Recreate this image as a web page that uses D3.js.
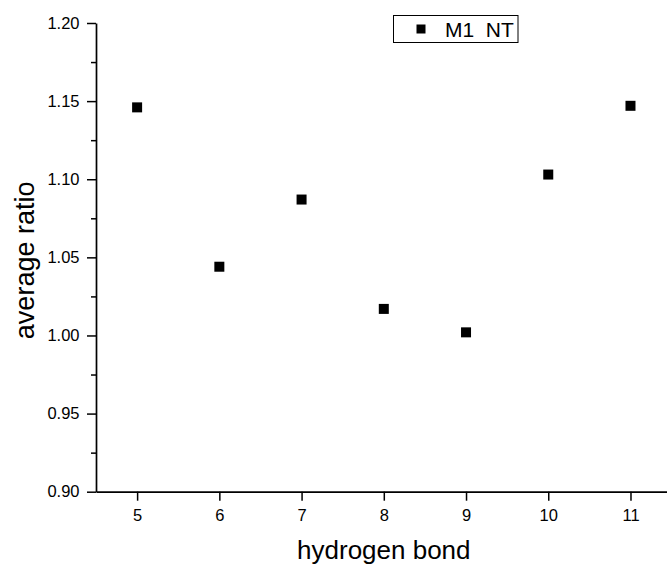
<!DOCTYPE html>
<html>
<head>
<meta charset="utf-8">
<script src="https://cdn.jsdelivr.net/npm/d3@7"></script>
<style>
  html, body { margin: 0; padding: 0; background: #fff; }
  svg { display: block; }
  text { font-family: Arial, "Liberation Sans", sans-serif; fill: #000; }
</style>
</head>
<body>
<svg id="chart" width="667" height="568"></svg>
<script>
// ---- data ----
const hydrogenBond = [5, 6, 7, 8, 9, 10, 11];
const averageRatio = [1.146, 1.044, 1.087, 1.017, 1.002, 1.103, 1.147];
const seriesName = "M1  NT";
const xTicks = [5, 6, 7, 8, 9, 10, 11];
const yTicks = [0.90, 0.95, 1.00, 1.05, 1.10, 1.15, 1.20];
const yMinorTicks = [0.925, 0.975, 1.025, 1.075, 1.125, 1.175];
const xLabel = "hydrogen bond";
const yLabel = "average ratio";

// ---- layout ----
const svg = d3.select("#chart");
const plotLeft = 96, plotRight = 671.6, plotTop = 23, plotBottom = 491.7;
const tickFont = 16.5;

const x = d3.scaleLinear().domain([4.5, 11.5]).range([plotLeft, plotRight]);
const y = d3.scaleLinear().domain([0.90, 1.20]).range([plotBottom, plotTop]);

// x axis
const xAxis = svg.append("g")
  .attr("transform", `translate(0,${plotBottom})`)
  .call(d3.axisBottom(x).tickValues(xTicks).tickFormat(d3.format("d"))
        .tickSizeInner(9).tickSizeOuter(0).tickPadding(9));
xAxis.select(".domain").attr("stroke", "#000").attr("stroke-width", 1.7);
xAxis.selectAll(".tick line").attr("stroke", "#000").attr("stroke-width", 1.5);
xAxis.selectAll(".tick text").attr("font-size", tickFont).attr("font-family", "Arial, 'Liberation Sans', sans-serif");

// y axis
const yAxis = svg.append("g")
  .attr("transform", `translate(${plotLeft},0)`)
  .call(d3.axisLeft(y).tickValues(yTicks).tickFormat(d3.format(".2f"))
        .tickSizeInner(9).tickSizeOuter(0).tickPadding(7.5));
yAxis.select(".domain").attr("stroke", "#000").attr("stroke-width", 1.7);
yAxis.selectAll(".tick line").attr("stroke", "#000").attr("stroke-width", 1.5);
yAxis.selectAll(".tick text").attr("font-size", tickFont).attr("font-family", "Arial, 'Liberation Sans', sans-serif");

// y minor ticks
svg.append("g")
  .attr("transform", `translate(${plotLeft},0)`)
  .call(d3.axisLeft(y).tickValues(yMinorTicks).tickFormat("").tickSizeInner(5).tickSizeOuter(0))
  .call(g => g.select(".domain").remove())
  .selectAll(".tick line").attr("stroke", "#000").attr("stroke-width", 1.5);

// axis labels
svg.append("text")
  .attr("x", (plotLeft + plotRight) / 2)
  .attr("y", 559)
  .attr("text-anchor", "middle")
  .attr("font-size", 26)
  .text(xLabel);

svg.append("text")
  .attr("transform", `translate(34,${(plotTop + plotBottom) / 2 + 3}) rotate(-90)`)
  .attr("text-anchor", "middle")
  .attr("font-size", 27)
  .text(yLabel);

// points
const ms = 10;
svg.append("g").selectAll("rect")
  .data(hydrogenBond.map((h, i) => ({h, v: averageRatio[i]})))
  .join("rect")
  .attr("x", d => x(d.h) - ms / 2)
  .attr("y", d => y(d.v) - ms / 2)
  .attr("width", ms)
  .attr("height", ms)
  .attr("fill", "#000");

// legend
const leg = svg.append("g");
leg.append("rect")
  .attr("x", 393.5).attr("y", 15.5)
  .attr("width", 124.5).attr("height", 27)
  .attr("fill", "#fff").attr("stroke", "#000").attr("stroke-width", 1);
leg.append("rect")
  .attr("x", 421 - 4.5).attr("y", 29 - 4.5)
  .attr("width", 9).attr("height", 9)
  .attr("fill", "#000");
leg.append("text")
  .attr("x", 445).attr("y", 37)
  .attr("font-size", 21)
  .attr("xml:space", "preserve")
  .style("white-space", "pre")
  .text(seriesName);
</script>
</body>
</html>
